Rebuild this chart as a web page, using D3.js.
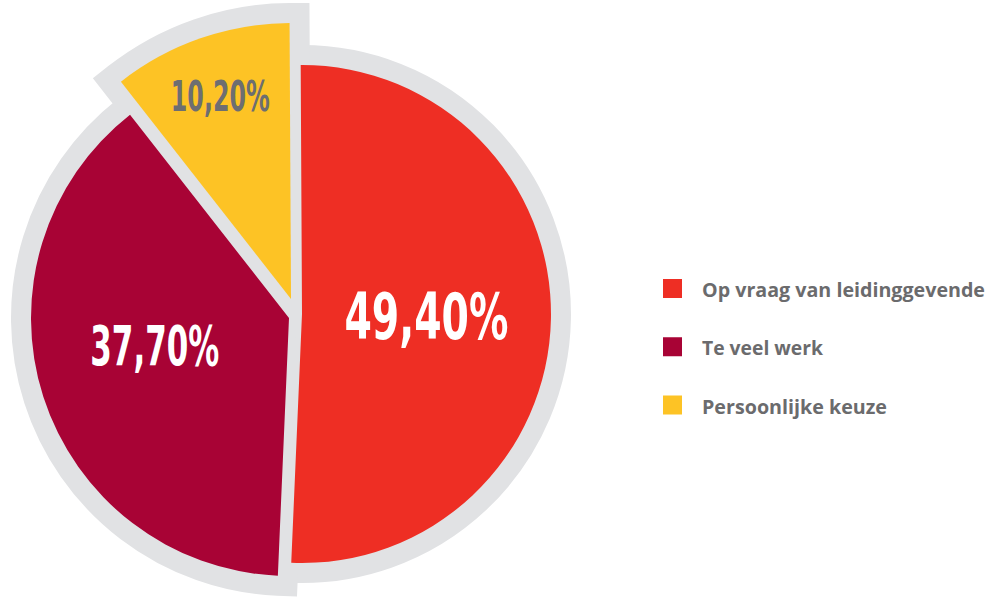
<!DOCTYPE html>
<html>
<head>
<meta charset="utf-8">
<script src="https://cdn.jsdelivr.net/npm/d3@7"></script>
<style>
  html, body { margin: 0; padding: 0; background: #ffffff; }
  svg { display: block; }
</style>
</head>
<body>
<svg id="chart" width="990" height="598"></svg>
<script>
// ---- data ----
const categories = ["Op vraag van leidinggevende", "Te veel werk", "Persoonlijke keuze"];
const values = [49.4, 37.7, 10.2];
const valueLabels = ["49,40%", "37,70%", "10,20%"];
const colors = ["#ee2e24", "#a80335", "#fdc325"];

// ---- layout (not data) ----
const W = 990, H = 598;
const GREY = "#e1e2e4";
const BORDER = 20;                 // visible grey border width
const deg = Math.PI / 180;
const startA = -0.3 * deg;
// per-slice centre (explode) and radius
const sliceGeom = [
  { cx: 302, cy: 314, r: 249 },
  { cx: 289, cy: 318, r: 258 },
  { cx: 291, cy: 299, r: 276 }
];
// label placement: fraction of radius along mid angle, pixel nudge
const labelGeom = [
  { f: 0.50, dx: 0, dy: 0, size: 64, width: 164, color: "#ffffff" },
  { f: 0.53, dx: -4, dy: -15, size: 56, width: 129, color: "#ffffff" },
  { f: 0.78, dx: 0, dy: 0, size: 42, width: 99, color: "#6d6e71" }
];
const capRatio = 0.72;

const svg = d3.select("#chart");

const pie = d3.pie().sort(null).value(d => d)
  .startAngle(startA).endAngle(2 * Math.PI + startA);
const arcs = pie(values);

const arcGen = (i) => d3.arc().innerRadius(0).outerRadius(sliceGeom[i].r);

// grey border layer
const borderLayer = svg.append("g");
borderLayer.selectAll("path").data(arcs).join("path")
  .attr("transform", (d, i) => `translate(${sliceGeom[i].cx},${sliceGeom[i].cy})`)
  .attr("d", (d, i) => arcGen(i)(d))
  .attr("fill", GREY)
  .attr("stroke", GREY)
  .attr("stroke-width", BORDER * 2)
  .attr("stroke-linejoin", "miter")
  .attr("stroke-miterlimit", 4);

// coloured slices
const sliceLayer = svg.append("g");
sliceLayer.selectAll("path").data(arcs).join("path")
  .attr("transform", (d, i) => `translate(${sliceGeom[i].cx},${sliceGeom[i].cy})`)
  .attr("d", (d, i) => arcGen(i)(d))
  .attr("fill", (d, i) => colors[i]);

// value labels
const labelLayer = svg.append("g");
labelLayer.selectAll("text").data(arcs).join("text")
  .attr("x", (d, i) => {
    const g = sliceGeom[i], l = labelGeom[i];
    const a = (d.startAngle + d.endAngle) / 2;
    return g.cx + Math.sin(a) * g.r * l.f + l.dx;
  })
  .attr("y", (d, i) => {
    const g = sliceGeom[i], l = labelGeom[i];
    const a = (d.startAngle + d.endAngle) / 2;
    return g.cy - Math.cos(a) * g.r * l.f + l.dy + l.size * capRatio / 2;
  })
  .attr("text-anchor", "middle")
  .attr("font-family", "'Liberation Sans Narrow', 'DejaVu Sans Condensed', 'Roboto', sans-serif")
  .attr("font-weight", "bold")
  .attr("font-size", (d, i) => labelGeom[i].size)
  .attr("textLength", (d, i) => labelGeom[i].width)
  .attr("lengthAdjust", "spacingAndGlyphs")
  .attr("fill", (d, i) => labelGeom[i].color)
  .text((d, i) => valueLabels[i]);

// legend
const legendX = 663, legendSwatch = 19, legendTextX = 702;
const legendTextWidths = [283, 121, 185];
const yLegend = d3.scalePoint().domain(categories).range([297, 413.5]);
const legend = svg.append("g");
const items = legend.selectAll("g").data(categories).join("g");
items.append("rect")
  .attr("x", legendX)
  .attr("y", d => yLegend(d) - 18)
  .attr("width", legendSwatch)
  .attr("height", legendSwatch)
  .attr("fill", (d, i) => colors[i]);
items.append("text")
  .attr("x", legendTextX)
  .attr("y", d => yLegend(d))
  .attr("font-family", "'Open Sans', 'Noto Sans', sans-serif")
  .attr("font-weight", "bold")
  .attr("font-size", 19)
  .attr("textLength", (d, i) => legendTextWidths[i])
  .attr("lengthAdjust", "spacingAndGlyphs")
  .attr("fill", "#6b6b6d")
  .text(d => d);
</script>
</body>
</html>
